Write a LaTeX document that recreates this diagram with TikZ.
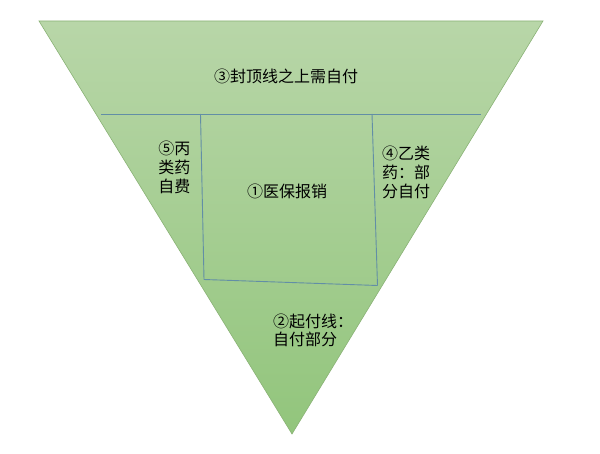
\documentclass[tikz,border=0pt]{standalone}
\usepackage{fontspec}
\newfontfamily\cjk{Noto Sans CJK SC}
\usetikzlibrary{positioning}
\definecolor{greenTop}{RGB}{184,214,168}
\definecolor{greenBot}{RGB}{146,197,124}
\definecolor{edgeGreen}{RGB}{138,178,118}
\definecolor{lineBlue}{RGB}{98,142,166}

\begin{document}
\begin{tikzpicture}[x=1pt,y=-1pt,
		part/.style={font=\cjk\fontsize{16}{19}\selectfont,inner sep=0pt},
		divider/.style={draw=lineBlue,line width=0.9pt}]
			\useasboundingbox (0,0) rectangle (600,454);
			% the triangle
			\coordinate (t_l) at (39,21);
			\coordinate (t_r) at (543,21);
			\coordinate (t_b) at (292,434);
			\shade[top color=greenTop,bottom color=greenBot,draw=edgeGreen,line width=0.6pt]
				(t_l) -- (t_r) -- (t_b) -- cycle;
			% the cap line and the box
			\coordinate (cap_l) at (101,114);
			\coordinate (cap_r) at (481,114);
			\coordinate (box_nw) at (200.5,114);
			\coordinate (box_ne) at (372,114);
			\coordinate (box_sw) at (204,279.5);
			\coordinate (box_se) at (377.5,285.5);
			\path[divider]
				(cap_l) edge (cap_r)
				(box_nw) edge (box_sw)
				(box_ne) edge (box_se)
				(box_sw) edge (box_se);
			% labels
			\node[part] (n_3) at (286,76) {③封顶线之上需自付};
			\node[part,align=center] (n_1) at (287,191) {①医保报销};
			\node[part,align=right,anchor=east] (n_5) at (190.5,167) {⑤丙\\类药\\自费};
			\node[part,align=left,anchor=west] (n_4) at (382,172.5) {④乙类\\药：部\\分自付};
			\node[part,align=left,anchor=west,font=\cjk\fontsize{16}{18}\selectfont] (n_2) at (273,330.5) {②起付线：\\自付部分};
		\end{tikzpicture}
\end{document}
